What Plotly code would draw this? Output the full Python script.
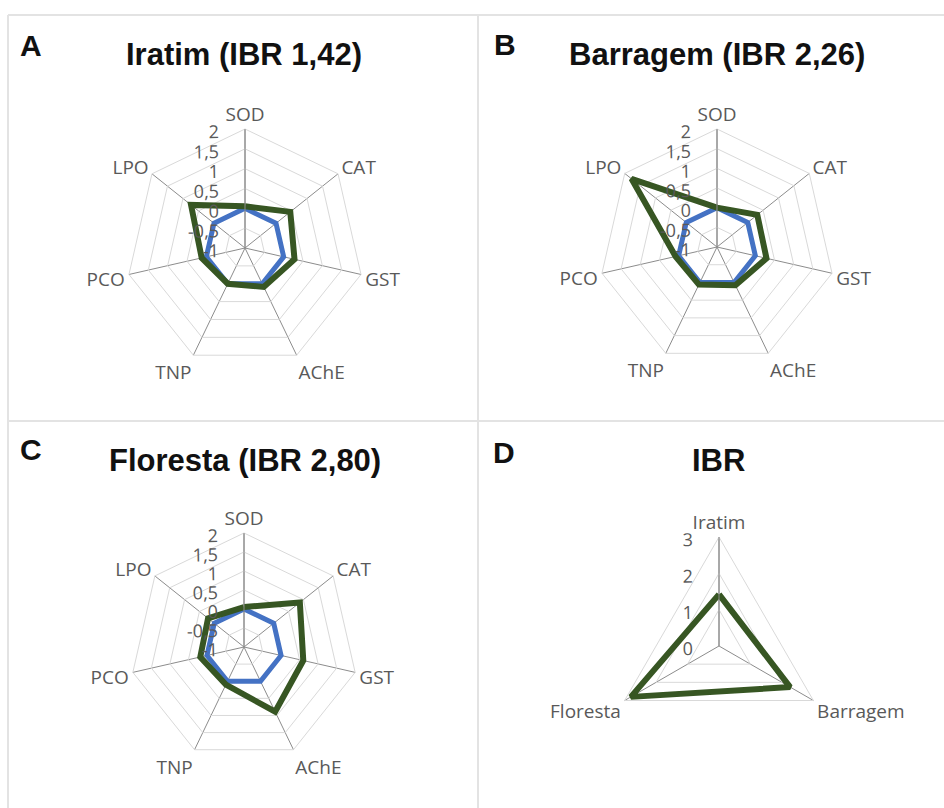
import plotly.graph_objects as go

# Biomarker axes (clockwise from the top)
enzimas = ["SOD", "CAT", "GST", "AChE", "TNP", "PCO", "LPO"]

# Standardized biomarker responses per site (reference site = 0)
referencia = [0, 0, 0, 0, 0, 0, 0]
iratim = [0.05, 0.46, 0.28, 0.09, 0.0, 0.12, 0.74]
barragem = [0.0, 0.31, 0.29, 0.08, 0.06, 0.08, 1.78]
floresta = [0.05, 0.88, 0.60, 0.89, 0.10, 0.18, 0.21]

# Integrated Biomarker Response per site
locais = ["Iratim", "Barragem", "Floresta"]
ibr = [1.42, 2.26, 2.80]

radial_vals = [-1, -0.5, 0, 0.5, 1, 1.5, 2]
radial_text = ["-1", "-0,5", "0", "0,5", "1", "1,5", "2"]
ibr_vals = [0, 1, 2, 3]
ibr_text = ["0", "1", "2", "3"]

AZUL = "#4472C4"
VERDE = "#375623"
CINZA_TXT = "#595959"
W, H = 944, 808
PAD = "\u00a0" * 2  # keeps the value labels clear of the vertical axis


def fechar(seq):
    return list(seq) + [seq[0]]


def dom(cx, cy, r):
    # square domain (paper fraction) around a centre given in pixels from top-left
    return dict(x=[(cx - r) / W, (cx + r) / W],
                y=[(H - cy - r) / H, (H - cy + r) / H])


def polar_cfg(cx, cy, r, rng, tv, tt):
    return dict(
        domain=dom(cx, cy, r),
        bgcolor="white",
        gridshape="linear",
        radialaxis=dict(range=rng, tickvals=tv, ticktext=[t + PAD for t in tt],
                        angle=90, side="counterclockwise", tickangle=89,
                        showline=True, linecolor="#8c8c8c", linewidth=1,
                        gridcolor="#d9d9d9", gridwidth=1, ticks="",
                        tickfont=dict(family="Open Sans", size=18, color=CINZA_TXT)),
        angularaxis=dict(direction="clockwise", rotation=90,
                         showline=True, linecolor="#d9d9d9", linewidth=1,
                         gridcolor="#8c8c8c", gridwidth=1, ticks="",
                         tickfont=dict(family="Open Sans", size=19, color=CINZA_TXT)),
    )


fig = go.Figure()

paineis = [("polar", iratim), ("polar2", barragem), ("polar3", floresta)]
for sub, serie in paineis:
    fig.add_trace(go.Scatterpolar(r=fechar(referencia), theta=fechar(enzimas),
                                  mode="lines", line=dict(color=AZUL, width=5),
                                  subplot=sub, showlegend=False, hoverinfo="skip"))
    fig.add_trace(go.Scatterpolar(r=fechar(serie), theta=fechar(enzimas),
                                  mode="lines", line=dict(color=VERDE, width=6),
                                  subplot=sub, showlegend=False, hoverinfo="skip"))

fig.add_trace(go.Scatterpolar(r=fechar(ibr), theta=fechar(locais), mode="lines",
                              line=dict(color=VERDE, width=6), subplot="polar4",
                              showlegend=False, hoverinfo="skip"))

fig.update_layout(
    width=W, height=H,
    margin=dict(l=0, r=0, t=0, b=0),
    paper_bgcolor="white",
    polar=polar_cfg(245, 248, 119, [-1, 2], radial_vals, radial_text),
    polar2=polar_cfg(717, 247, 118, [-1, 2], radial_vals, radial_text),
    polar3=polar_cfg(244, 647, 114, [-1, 2], radial_vals, radial_text),
    polar4=polar_cfg(719, 646, 109, [0, 3], ibr_vals, ibr_text),
)

# Panel frames
linhas = [
    (8, 15, 944, 15),
    (8, 15, 8, 808),
    (478, 15, 478, 808),
    (8, 421, 944, 421),
]
for x0, y0, x1, y1 in linhas:
    fig.add_shape(type="line", xref="paper", yref="paper",
                  x0=x0 / W, x1=x1 / W, y0=1 - y0 / H, y1=1 - y1 / H,
                  line=dict(color="#e3e3e3", width=2))

titulos = [
    ("Iratim (IBR 1,42)", 244, 55),
    ("Barragem (IBR 2,26)", 717, 55),
    ("Floresta (IBR 2,80)", 245, 461),
    ("IBR", 718, 461),
]
for txt, x, y in titulos:
    fig.add_annotation(text="<b>" + txt + "</b>", x=x / W, y=1 - y / H,
                       xref="paper", yref="paper",
                       showarrow=False, xanchor="center", yanchor="middle",
                       font=dict(family="Liberation Sans", size=31, color="#111111"))

letras = [("A", 31, 45), ("B", 505, 44), ("C", 31, 449), ("D", 504, 452)]
for txt, x, y in letras:
    fig.add_annotation(text="<b>" + txt + "</b>", x=x / W, y=1 - y / H,
                       xref="paper", yref="paper", showarrow=False,
                       xanchor="center", yanchor="middle",
                       font=dict(family="Liberation Sans", size=30, color="#111111"))

fig.write_html("out.html")
